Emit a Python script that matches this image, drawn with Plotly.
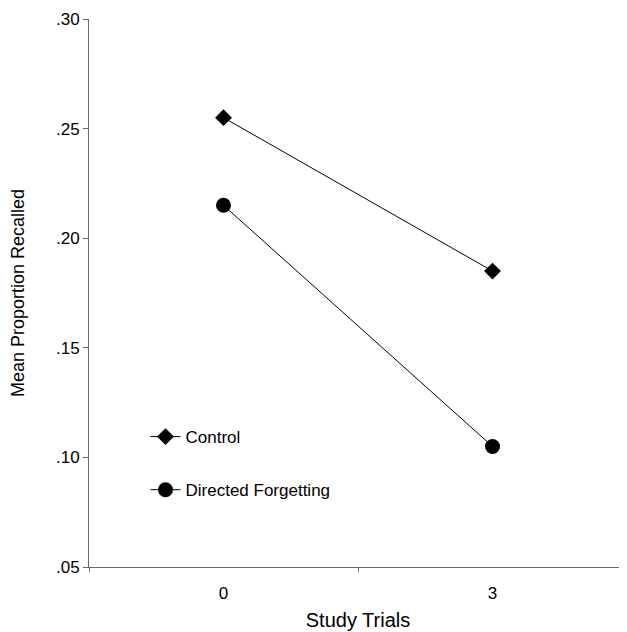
import plotly.graph_objects as go

study_trials = ["0", "3"]
control = [0.255, 0.185]
directed_forgetting = [0.215, 0.105]
y_ticks = [0.05, 0.10, 0.15, 0.20, 0.25, 0.30]
y_tick_labels = [".05", ".10", ".15", ".20", ".25", ".30"]

fig = go.Figure()
fig.add_trace(go.Scatter(
    x=study_trials, y=control, name="Control", mode="lines+markers",
    line=dict(color="black", width=1),
    marker=dict(symbol="diamond", size=13, color="black"),
    legendgroup="a",
))
fig.add_trace(go.Scatter(
    x=study_trials, y=directed_forgetting, name="Directed Forgetting", mode="lines+markers",
    line=dict(color="black", width=1),
    marker=dict(symbol="circle", size=15, color="black"),
    legendgroup="b",
))

fig.update_layout(
    width=619, height=624,
    margin=dict(l=81, r=0, t=11, b=65, autoexpand=False),
    paper_bgcolor="white", plot_bgcolor="white",
    font=dict(family="Liberation Sans, Arial, sans-serif", size=17, color="black"),
    legend=dict(x=0.105, y=0.27, xanchor="left", yanchor="top",
                bgcolor="rgba(0,0,0,0)", tracegroupgap=28,
                font=dict(size=17), itemwidth=30),
    showlegend=True,
)
fig.update_xaxes(
    type="category", range=[-0.5, 1.5],
    showline=True, linecolor="#666", linewidth=1,
    ticks="outside", tickson="boundaries", ticklen=4, tickcolor="#666",
    showgrid=False, zeroline=False,
    ticklabelstandoff=11,
    title=dict(text="Study Trials", font=dict(size=20), standoff=10),
)
fig.update_yaxes(
    range=[0.05, 0.30], tickvals=y_ticks, ticktext=y_tick_labels,
    showline=True, linecolor="#666", linewidth=1,
    ticks="outside", ticklen=5, tickcolor="#666",
    showgrid=False, zeroline=False,
    title=dict(text="Mean Proportion Recalled", font=dict(size=18), standoff=26),
)
fig.write_html("out.html")
